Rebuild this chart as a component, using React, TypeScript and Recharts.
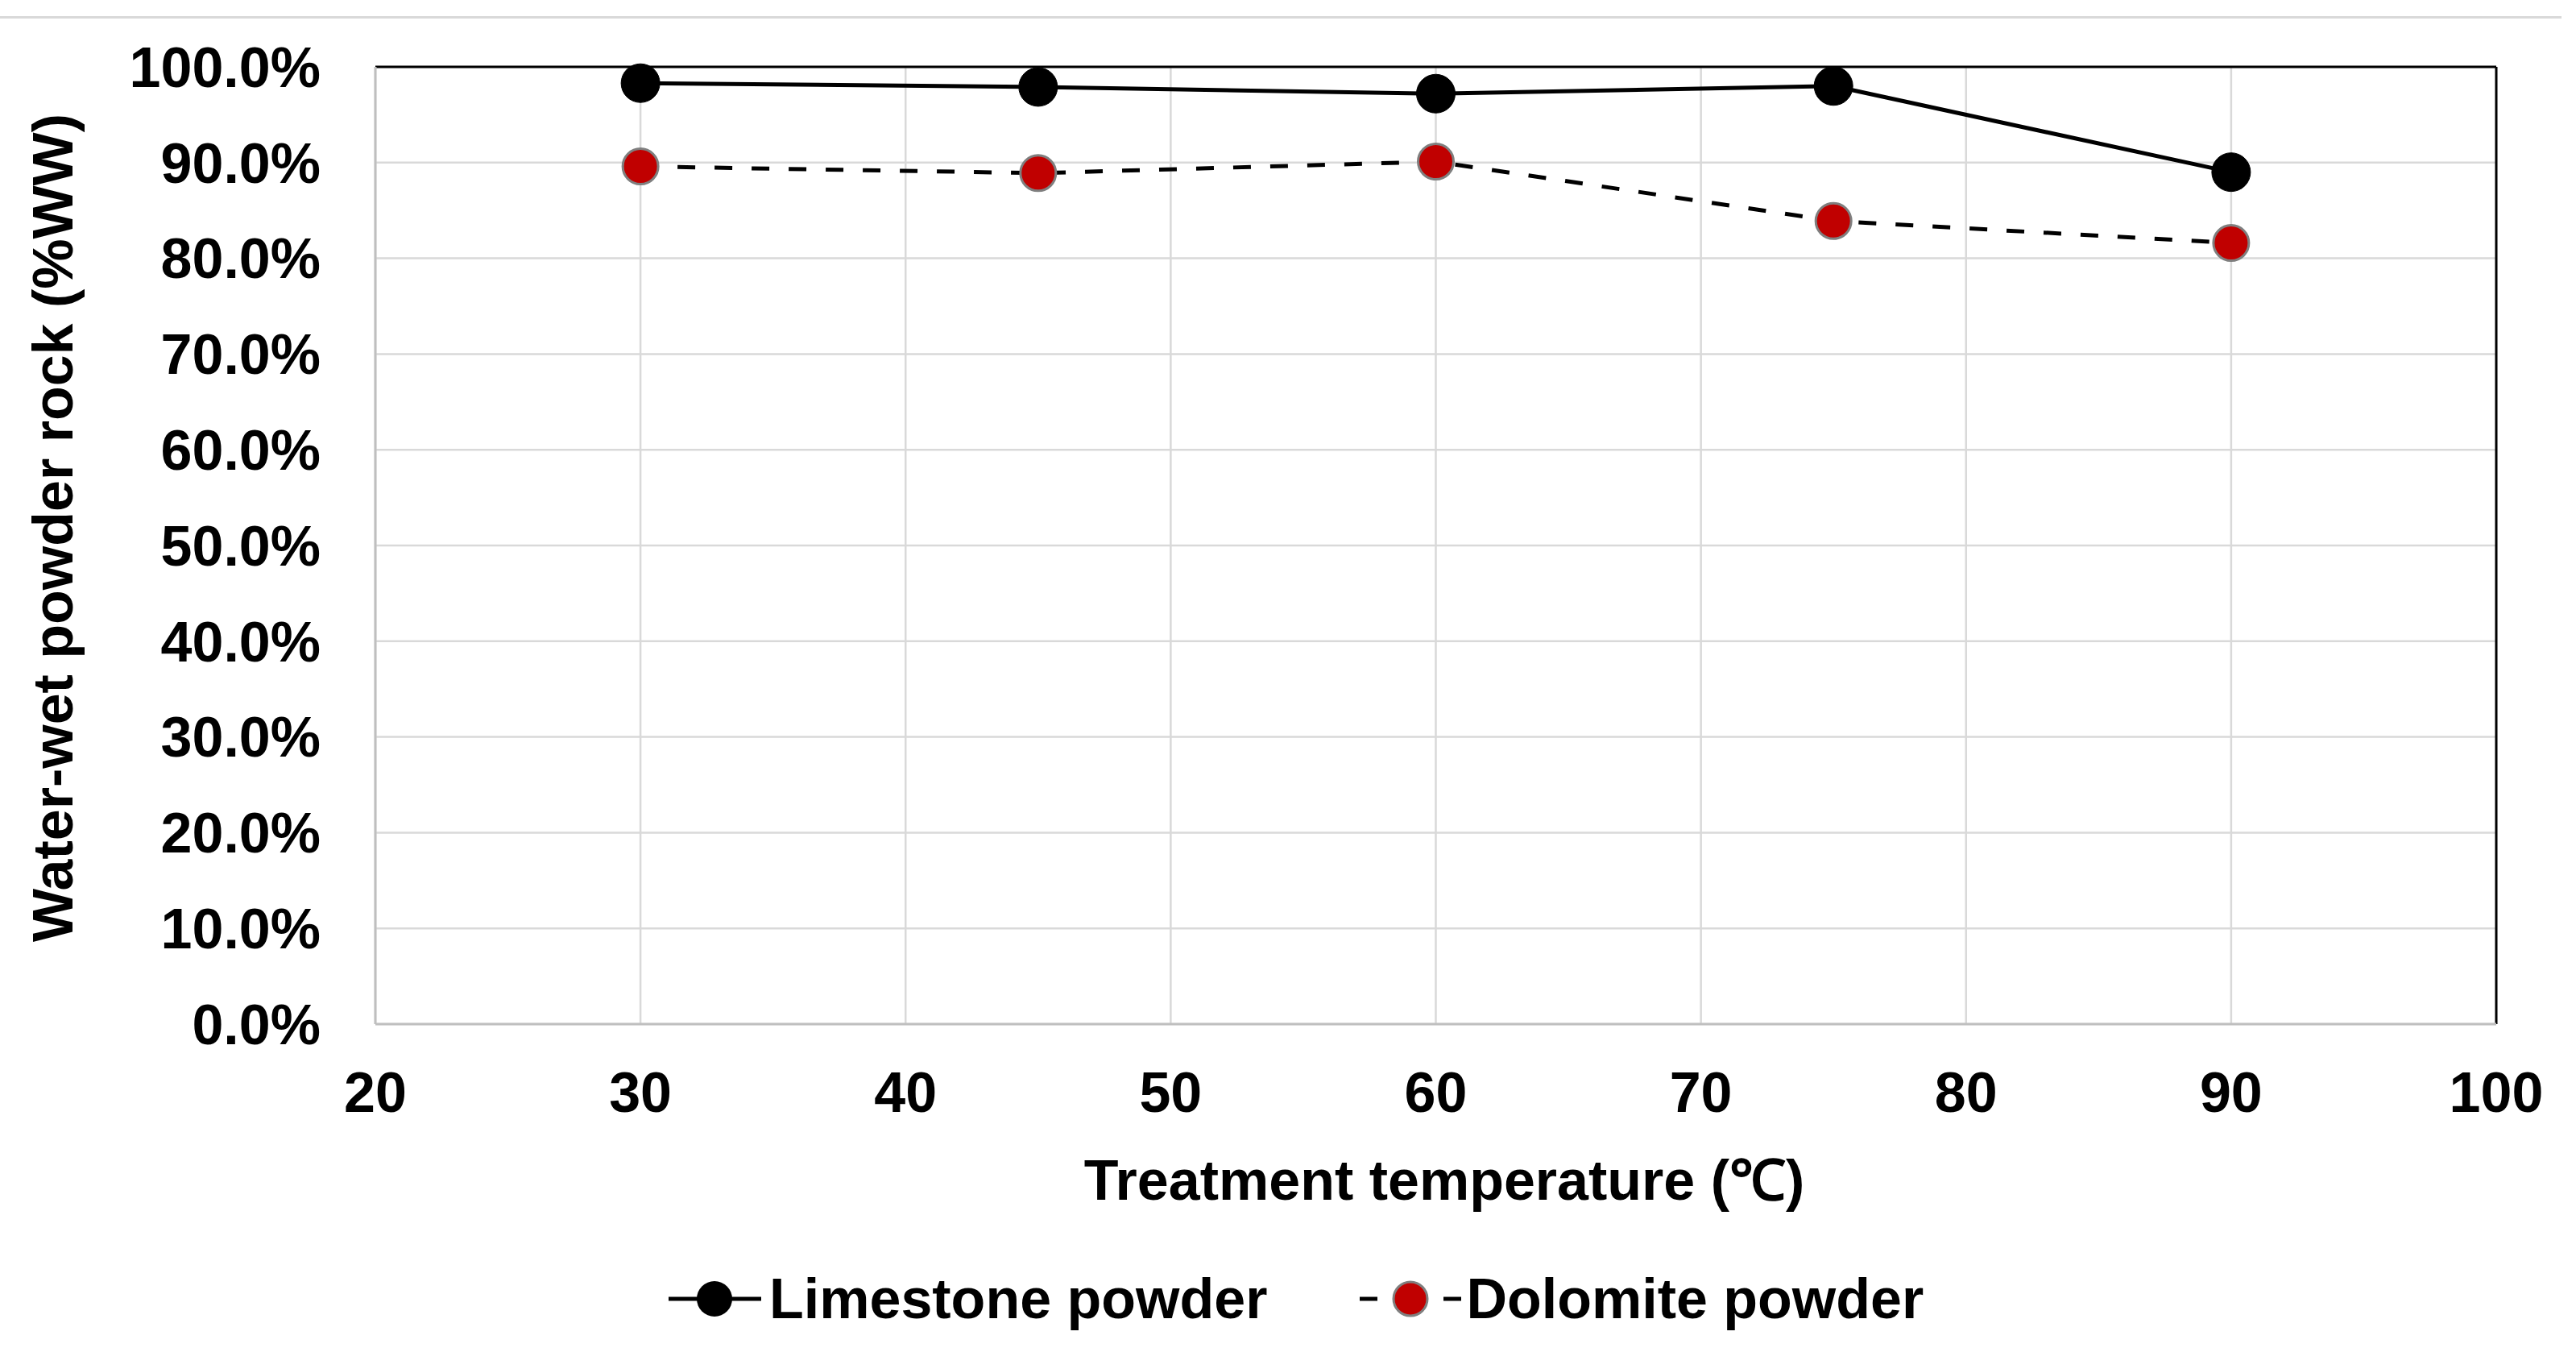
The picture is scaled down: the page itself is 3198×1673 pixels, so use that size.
import React from 'react';
import { LineChart, Line, XAxis, YAxis, CartesianGrid, ReferenceLine } from 'recharts';

const temperatures = [30, 45, 60, 75, 90];
const limestone = [98.3, 97.9, 97.2, 98.0, 89.0];
const dolomite = [89.6, 88.9, 90.1, 83.9, 81.6];
const xTicks = [20, 30, 40, 50, 60, 70, 80, 90, 100];
const yTicks = [0, 10, 20, 30, 40, 50, 60, 70, 80, 90, 100];

const FONT = '"Liberation Sans", Arial, sans-serif';

const data = temperatures.map((t, i) => ({
    temp: t,
    limestone: limestone[i],
    dolomite: dolomite[i],
}));

const tickStyle = { fill: '#000', fontSize: 70, fontWeight: 700, fontFamily: FONT };

const LimestoneIcon = () => (
    <svg width={115} height={60}>
        <line x1={0} y1={30} x2={115} y2={30} stroke="#000" strokeWidth={5} />
        <circle cx={57} cy={30} r={22} fill="#000" />
    </svg>
);

const DolomiteIcon = () => (
    <svg width={130} height={60}>
        <line x1={0} y1={30} x2={22} y2={30} stroke="#000" strokeWidth={5} />
        <line x1={104} y1={30} x2={126} y2={30} stroke="#000" strokeWidth={5} />
        <circle cx={63} cy={30} r={21} fill="#C00000" stroke="#7f7f7f" strokeWidth={3} />
    </svg>
);

const App: React.FC = () => {
    return (
        <div style={{ position: 'absolute', left: 0, top: 0, width: 3198, height: 1673, background: '#fff', fontFamily: FONT }}>
            {/* thin rule across the top of the figure */}
            <div style={{ position: 'absolute', left: 0, top: 20, width: 3180, height: 3, background: '#d9d9d9' }} />

            <LineChart
                width={3198}
                height={1673}
                data={data}
                margin={{ top: 83, right: 99, bottom: 302, left: 166 }}
            >
                <CartesianGrid stroke="#d9d9d9" strokeWidth={2.5} />
                <XAxis
                    type="number"
                    dataKey="temp"
                    domain={[20, 100]}
                    ticks={xTicks}
                    height={100}
                    tickLine={false}
                    tickSize={0}
                    tickMargin={59}
                    axisLine={{ stroke: '#bfbfbf', strokeWidth: 3 }}
                    tick={tickStyle}
                    interval={0}
                />
                <YAxis
                    type="number"
                    domain={[0, 100]}
                    ticks={yTicks}
                    width={300}
                    tickLine={false}
                    tickSize={0}
                    tickMargin={68}
                    axisLine={{ stroke: '#bfbfbf', strokeWidth: 3 }}
                    tick={tickStyle}
                    tickFormatter={(v: number) => `${v.toFixed(1)}%`}
                    interval={0}
                />
                <ReferenceLine y={100} stroke="#000" strokeWidth={3} />
                <ReferenceLine x={100} stroke="#000" strokeWidth={3} />
                <Line
                    dataKey="limestone"
                    stroke="#000"
                    strokeWidth={5}
                    dot={{ r: 24, fill: '#000', stroke: '#000', strokeWidth: 1 }}
                    activeDot={false}
                    isAnimationActive={false}
                />
                <Line
                    dataKey="dolomite"
                    stroke="#000"
                    strokeWidth={5}
                    strokeDasharray="22 24"
                    dot={{ r: 22, fill: '#C00000', stroke: '#7f7f7f', strokeWidth: 3, strokeDasharray: '' }}
                    activeDot={false}
                    isAnimationActive={false}
                />
            </LineChart>

            {/* y axis title */}
            <div
                style={{
                    position: 'absolute',
                    left: 66,
                    top: 655,
                    transform: 'translate(-50%, -50%) rotate(-90deg)',
                    whiteSpace: 'nowrap',
                    fontSize: 70,
                    fontWeight: 700,
                    lineHeight: '80px',
                }}
            >
                Water-wet powder rock (%WW)
            </div>

            {/* x axis title */}
            <div
                style={{
                    position: 'absolute',
                    left: 1793,
                    top: 1465,
                    transform: 'translate(-50%, -50%)',
                    whiteSpace: 'nowrap',
                    fontSize: 70,
                    fontWeight: 700,
                    lineHeight: '80px',
                }}
            >
                Treatment temperature (℃)
            </div>

            {/* legend */}
            <div
                style={{
                    position: 'absolute',
                    left: 830,
                    top: 1572,
                    height: 80,
                    display: 'flex',
                    alignItems: 'center',
                    fontSize: 70,
                    fontWeight: 700,
                    whiteSpace: 'nowrap',
                }}
            >
                <LimestoneIcon />
                <span style={{ marginLeft: 10 }}>Limestone powder</span>
                <span style={{ width: 115 }} />
                <DolomiteIcon />
                <span style={{ marginLeft: 2 }}>Dolomite powder</span>
            </div>
        </div>
    );
};

export default App;
